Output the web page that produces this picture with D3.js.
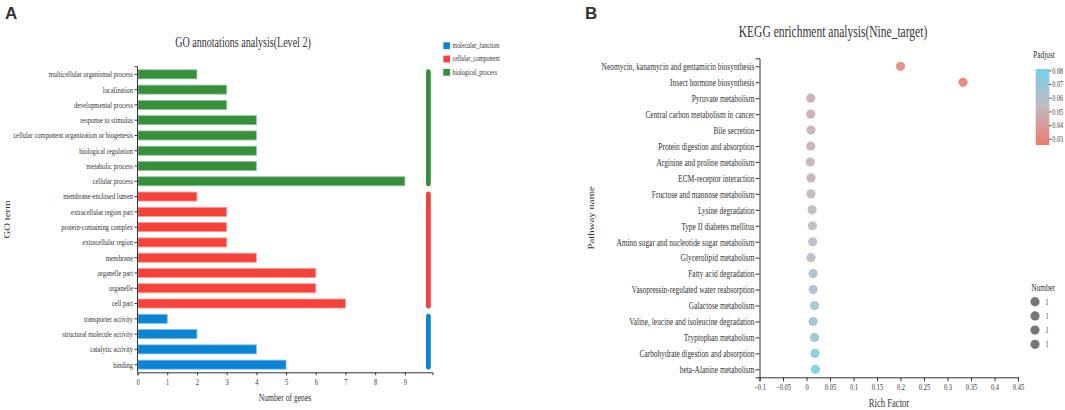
<!DOCTYPE html>
<html>
<head>
<meta charset="utf-8">
<script src="https://cdn.jsdelivr.net/npm/d3@7"></script>
<style>
  body { margin: 0; background: #fff; }
  svg { display: block; }
  text { font-family: "Liberation Serif", "Times New Roman", serif; fill: #333; }
  .domain, .tick line { stroke: #333; }
</style>
</head>
<body>
<script>
// ---- data: GO annotations (panel A), top to bottom
const goTerms = [
  'multicellular organismal process', 'localization', 'developmental process',
  'response to stimulus', 'cellular component organization or biogenesis',
  'biological regulation', 'metabolic process', 'cellular process',
  'membrane-enclosed lumen', 'extracellular region part', 'protein-containing complex',
  'extracellular region', 'membrane', 'organelle part', 'organelle', 'cell part',
  'transporter activity', 'structural molecule activity', 'catalytic activity', 'binding'
];
const goCounts = [2, 3, 3, 4, 4, 4, 4, 9, 2, 3, 3, 3, 4, 6, 6, 7, 1, 2, 4, 5];
const goClass = [
  'biological_process', 'biological_process', 'biological_process', 'biological_process',
  'biological_process', 'biological_process', 'biological_process', 'biological_process',
  'cellular_component', 'cellular_component', 'cellular_component', 'cellular_component',
  'cellular_component', 'cellular_component', 'cellular_component', 'cellular_component',
  'molecular_function', 'molecular_function', 'molecular_function', 'molecular_function'
];
const classNames = ['molecular_function', 'cellular_component', 'biological_process'];
const classColors = ['#0b84d4', '#f5423a', '#36903b'];
const goTicks = [0, 1, 2, 3, 4, 5, 6, 7, 8, 9];

// ---- data: KEGG enrichment (panel B), top to bottom
const pathways = [
  'Neomycin, kanamycin and gentamicin biosynthesis', 'Insect hormone biosynthesis',
  'Pyruvate metabolism', 'Central carbon metabolism in cancer', 'Bile secretion',
  'Protein digestion and absorption', 'Arginine and proline metabolism',
  'ECM-receptor interaction', 'Fructose and mannose metabolism', 'Lysine degradation',
  'Type II diabetes mellitus', 'Amino sugar and nucleotide sugar metabolism',
  'Glycerolipid metabolism', 'Fatty acid degradation',
  'Vasopressin-regulated water reabsorption', 'Galactose metabolism',
  'Valine, leucine and isoleucine degradation', 'Tryptophan metabolism',
  'Carbohydrate digestion and absorption', 'beta-Alanine metabolism'
];
const richFactor = [0.2, 0.333, 0.009, 0.009, 0.0095, 0.009, 0.008, 0.0095, 0.0095, 0.012,
  0.0125, 0.013, 0.0095, 0.014, 0.014, 0.017, 0.014, 0.017, 0.018, 0.019];
const padjust = [0.032, 0.028, 0.049, 0.049, 0.05, 0.05, 0.05, 0.05, 0.052, 0.055,
  0.055, 0.056, 0.057, 0.06, 0.061, 0.064, 0.065, 0.068, 0.074, 0.079];
const geneNumber = [1, 1, 1, 1, 1, 1, 1, 1, 1, 1, 1, 1, 1, 1, 1, 1, 1, 1, 1, 1];
const richTicks = [-0.1, -0.05, 0, 0.05, 0.1, 0.15, 0.2, 0.25, 0.3, 0.35, 0.4, 0.45];
const padjTicks = [0.03, 0.04, 0.05, 0.06, 0.07, 0.08];
const numberLegend = [1, 1, 1, 1];

const width = 1065, height = 410;
const SX = 0.72; // the figure is squeezed sideways

let svg = d3.select('body')
  .append('svg')
  .attr('width', width)
  .attr('height', height);

// text that is squeezed horizontally
function label(g, x, y, str, size, anchor) {
  return g.append('text')
    .attr('transform', 'translate(' + x + ',' + y + ') scale(' + SX + ',1)')
    .attr('text-anchor', anchor || 'start')
    .attr('dominant-baseline', 'central')
    .style('font-size', size + 'px')
    .text(str);
}
function vlabel(g, x, y, str, size) {
  return g.append('text')
    .attr('transform', 'translate(' + x + ',' + y + ') rotate(-90) scale(1,' + SX + ')')
    .attr('text-anchor', 'middle')
    .attr('dominant-baseline', 'central')
    .style('font-size', size + 'px')
    .text(str);
}
function squeezeTicks(g, size) {
  g.selectAll('.tick text').each(function () {
    let t = d3.select(this);
    let x = +t.attr('x') || 0;
    t.attr('x', x / SX)
      .attr('transform', 'scale(' + SX + ',1)')
      .style('font-size', size + 'px')
      .style('font-family', '"Liberation Serif", serif')
      .attr('fill', '#333');
  });
  g.selectAll('.domain, .tick line').attr('stroke', '#333');
}

// ================= Panel A =================
let A = svg.append('g');
A.append('text').attr('x', 5).attr('y', 18.5)
  .style('font-family', '"Liberation Sans", Arial, sans-serif')
  .style('font-weight', 'bold').style('font-size', '17px').attr('fill', '#000')
  .text('A');

let xA = d3.scaleLinear().domain([0, 9.93]).range([137.5, 432.5]);
let yA = d3.scaleBand().domain(goTerms).range([66.7, 372.3])
  .paddingInner(0.41).paddingOuter(0.205);
let colorA = d3.scaleOrdinal().domain(classNames).range(classColors);

// bars
A.selectAll('rect.bar')
  .data(goTerms)
  .enter()
  .append('rect')
  .attr('class', 'bar')
  .attr('x', xA(0) + 0.5)
  .attr('y', d => yA(d))
  .attr('width', (d, i) => xA(goCounts[i]) - xA(0) - 0.5)
  .attr('height', yA.bandwidth())
  .attr('fill', (d, i) => colorA(goClass[i]))
  .attr('stroke', (d, i) => d3.interpolateRgb(colorA(goClass[i]), '#fff')(0.45))
  .attr('stroke-width', 0.8);

// group bars on the right
classNames.forEach(function (c) {
  let rows = goTerms.filter((d, i) => goClass[i] === c);
  let step = yA.step();
  let top = yA(rows[0]) + yA.bandwidth() / 2 - step / 2 + 2.6;
  let bot = yA(rows[rows.length - 1]) + yA.bandwidth() / 2 + step / 2 - 2.6;
  A.append('rect')
    .attr('x', 426)
    .attr('y', top)
    .attr('width', 4.8)
    .attr('height', bot - top)
    .attr('rx', 2.4)
    .attr('fill', colorA(c));
});

let xAxisA = A.append('g')
  .attr('transform', 'translate(0,' + 372.3 + ')')
  .call(d3.axisBottom(xA).tickValues(goTicks).tickFormat(d3.format('d')).tickSize(3).tickPadding(3));
squeezeTicks(xAxisA, 9);

let yAxisA = A.append('g')
  .attr('transform', 'translate(' + 137.5 + ',0)')
  .call(d3.axisLeft(yA).tickSize(3).tickPadding(1.5));
squeezeTicks(yAxisA, 9);
yAxisA.select('.domain').attr('d', 'M-3,66.7H0V372.3');

label(A, 243, 42.3, 'GO annotations analysis(Level 2)', 14, 'middle');
label(A, 285, 397.7, 'Number of genes', 10.6, 'middle');
vlabel(A, 8, 219.5, 'GO term', 10.8);

// legend
classNames.forEach(function (c, i) {
  let cy = 45.7 + i * 13.3;
  A.append('rect').attr('x', 443.3).attr('y', cy - 3.4).attr('width', 6.7).attr('height', 6.8)
    .attr('fill', classColors[i]);
  label(A, 452.5, cy, c, 8.3, 'start');
});

// ================= Panel B =================
let B = svg.append('g');
B.append('text').attr('x', 585).attr('y', 18.5)
  .style('font-family', '"Liberation Sans", Arial, sans-serif')
  .style('font-weight', 'bold').style('font-size', '17px').attr('fill', '#000')
  .text('B');

let xB = d3.scaleLinear().domain([-0.1, 0.45]).range([759.5, 1018]);
let yB = d3.scalePoint().domain(pathways).range([58.3, 377.3]).padding(0.5);
let colorB = d3.scaleLinear()
  .domain([0.0255, 0.054, 0.081])
  .range(['#ee7a6d', '#bfbac1', '#74d1ea'])
  .interpolate(d3.interpolateRgb);
let rB = d3.scaleSqrt().domain([0, 1]).range([0, 4.6]);

let xAxisB = B.append('g')
  .attr('transform', 'translate(0,' + 377.3 + ')')
  .call(d3.axisBottom(xB).tickValues(richTicks).tickFormat(d => d3.format('')(+d.toFixed(2))).tickSize(4).tickPadding(2));
squeezeTicks(xAxisB, 9);

let yAxisB = B.append('g')
  .attr('transform', 'translate(' + 759.5 + ',0)')
  .call(d3.axisLeft(yB).tickSize(4).tickPadding(1));
squeezeTicks(yAxisB, 10.3);

B.selectAll('circle.dot')
  .data(pathways)
  .enter()
  .append('circle')
  .attr('class', 'dot')
  .attr('cx', (d, i) => xB(richFactor[i]))
  .attr('cy', d => yB(d))
  .attr('r', (d, i) => rB(geneNumber[i]))
  .attr('fill', (d, i) => colorB(padjust[i]))
  .attr('fill-opacity', 0.92);

label(B, 833, 32.3, 'KEGG enrichment analysis(Nine_target)', 16, 'middle');
label(B, 889, 403.3, 'Rich Factor', 12, 'middle');
vlabel(B, 592, 217.8, 'Pathway name', 10.8);

// colour bar
let defs = svg.append('defs');
let grad = defs.append('linearGradient').attr('id', 'padj')
  .attr('x1', 0).attr('y1', 1).attr('x2', 0).attr('y2', 0);
let cbScale = d3.scaleLinear().domain([0.0255, 0.081]).range([145, 69]);
[0.0255, 0.054, 0.081].forEach(function (v) {
  grad.append('stop')
    .attr('offset', (v - 0.0255) / (0.081 - 0.0255))
    .attr('stop-color', colorB(v));
});
B.append('rect').attr('x', 1035.7).attr('y', cbScale(0.081)).attr('width', 13.6)
  .attr('height', cbScale(0.0255) - cbScale(0.081)).attr('fill', 'url(#padj)');
let cbAxis = B.append('g')
  .attr('transform', 'translate(1049.3,0)')
  .call(d3.axisRight(cbScale).tickValues(padjTicks).tickFormat(d3.format('.2f')).tickSize(2).tickPadding(1));
cbAxis.select('.domain').remove();
squeezeTicks(cbAxis, 8.5);
label(B, 1044, 55, 'Padjust', 10.2, 'middle');

// size legend
label(B, 1043.3, 287.3, 'Number', 10.2, 'middle');
numberLegend.forEach(function (n, i) {
  let cy = 301.7 + i * 14.2;
  B.append('circle').attr('cx', 1035).attr('cy', cy).attr('r', rB(n)).attr('fill', '#777');
  label(B, 1045.5, cy, String(n), 8.5, 'start');
});
</script>
</body>
</html>
